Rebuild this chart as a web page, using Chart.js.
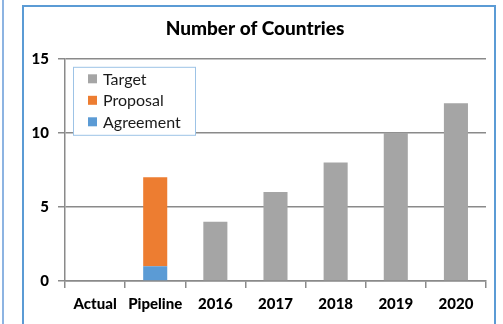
<!DOCTYPE html>
<html>
<head>
<meta charset="utf-8">
<script src="https://cdn.jsdelivr.net/npm/chart.js@4/dist/chart.umd.min.js"></script>
<style>
  html, body { margin: 0; padding: 0; background: #fff; }
  body { width: 503px; height: 324px; position: relative; overflow: hidden; }
  .edge { position: absolute; left: 2px; top: 0; width: 2px; height: 330px; background: #8db4e2; }
  .frame { position: absolute; left: 22px; top: 5px; width: 474px; height: 340px; border: 2px solid #5b9bd5; box-sizing: border-box; }
  .wrap { position: absolute; left: 24px; top: 0; width: 474px; height: 324px; }
</style>
</head>
<body>
<div class="edge"></div>
<div class="frame"></div>
<div class="wrap"><canvas id="countriesChart"></canvas></div>
<script>
const categories = ["Actual", "Pipeline", "2016", "2017", "2018", "2019", "2020"];
const agreement = [null, 1, null, null, null, null, null];
const proposal = [null, 6, null, null, null, null, null];
const target = [null, null, 4, 6, 8, 10, 12];
const yTicks = [0, 5, 10, 15];

const fontFamily = "Lato, 'DejaVu Sans', sans-serif";
const gridColor = "#8a8a8a";

// legend drawn inside the plot area, top-left, listed in reverse stack order
const innerLegend = {
  id: "innerLegend",
  afterDraw(chart) {
    const ctx = chart.ctx;
    const area = chart.chartArea;
    const x = area.left + 8;
    const y = area.top + 8;
    const w = 122;
    const h = 68;
    ctx.save();
    ctx.fillStyle = "#fff";
    ctx.fillRect(x, y, w, h);
    ctx.strokeStyle = "#9dc3e6";
    ctx.lineWidth = 1;
    ctx.strokeRect(x + 0.5, y + 0.5, w, h);
    ctx.font = "16px " + fontFamily;
    ctx.textBaseline = "middle";
    const items = [...chart.data.datasets].reverse();
    items.forEach((ds, i) => {
      const cy = y + 12 + i * 21.5;
      ctx.fillStyle = ds.backgroundColor;
      ctx.fillRect(x + 15, cy - 4.5, 9, 9);
      ctx.fillStyle = "#1a1a1a";
      ctx.fillText(ds.label, x + 30, cy + 1);
    });
    ctx.restore();
  }
};

new Chart(document.getElementById("countriesChart"), {
  type: "bar",
  data: {
    labels: categories,
    datasets: [
      { label: "Agreement", data: agreement, backgroundColor: "#5b9bd5" },
      { label: "Proposal", data: proposal, backgroundColor: "#ed7d31" },
      { label: "Target", data: target, backgroundColor: "#a5a5a5" }
    ]
  },
  options: {
    responsive: true,
    maintainAspectRatio: false,
    animation: false,
    categoryPercentage: 1,
    barPercentage: 0.4,
    layout: { padding: { left: 0, right: 12, top: 0, bottom: 0 } },
    plugins: {
      legend: { display: false },
      tooltip: { enabled: false },
      title: {
        display: true,
        text: "Number of Countries",
        color: "#000",
        font: { family: fontFamily, size: 19, weight: 900 },
        padding: { top: 17, bottom: 19 }
      }
    },
    scales: {
      x: {
        stacked: true,
        grid: { drawOnChartArea: false, drawTicks: true, tickLength: 7, color: gridColor, lineWidth: 1.5 },
        border: { display: true, color: gridColor, width: 1.5 },
        ticks: { color: "#000", padding: 7, font: { family: fontFamily, size: 15, weight: 900 }, maxRotation: 0, autoSkip: false },
        afterFit(scale) { scale.height = 43; }
      },
      y: {
        stacked: true,
        min: 0,
        max: 15,
        afterBuildTicks(scale) { scale.ticks = yTicks.map((v) => ({ value: v })); },
        grid: { color: gridColor, lineWidth: 1.5, tickLength: 7 },
        border: { display: true, color: gridColor, width: 1.5 },
        ticks: { color: "#000", padding: 9, font: { family: fontFamily, size: 15, weight: 900 } },
        afterFit(scale) { scale.width = 41; }
      }
    }
  },
  plugins: [innerLegend]
});
</script>
</body>
</html>
